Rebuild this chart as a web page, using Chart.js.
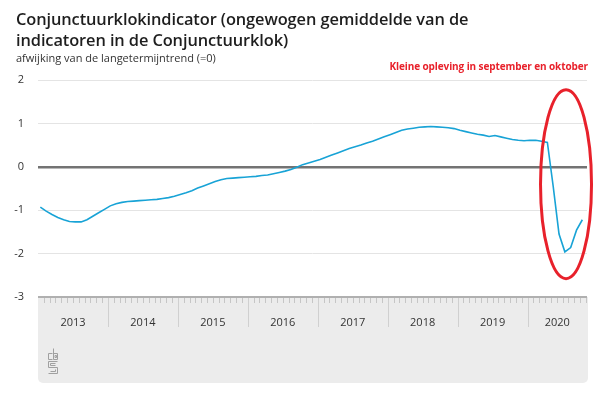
<!DOCTYPE html>
<html>
<head>
<meta charset="utf-8">
<script src="https://cdn.jsdelivr.net/npm/chart.js@4.4.1/dist/chart.umd.min.js"></script>
<style>
  body { margin: 0; background: #fff; }
  #wrap { position: relative; width: 600px; height: 398px; overflow: hidden; font-family: 'Open Sans', sans-serif; }
  #chart { position: absolute; left: 0; top: 0; }
  .title { position: absolute; left: 16px; top: 8px; font-size: 16.4px; font-weight: 600; line-height: 21px; color: #1e1e1e; letter-spacing: -0.1px; }
  .sub { position: absolute; left: 16px; top: 50px; font-size: 11px; color: #333; }
  .note { position: absolute; right: 12px; top: 59px; font-size: 10px; font-weight: 700; color: #e8212b; letter-spacing: -0.1px; }
</style>
</head>
<body>
<div id="wrap">
  <canvas id="chart" width="600" height="398"></canvas>
  <div class="title">Conjunctuurklokindicator (ongewogen gemiddelde van de<br>indicatoren in de Conjunctuurklok)</div>
  <div class="sub">afwijking van de langetermijntrend (=0)</div>
  <div class="note">Kleine opleving in september en oktober</div>
</div>
<script>
// Years shown on the axis (2020 runs through October)
const years = ['2013', '2014', '2015', '2016', '2017', '2018', '2019', '2020'];
const yearTickPos = [6, 18, 30, 42, 54, 66, 78, 89.1];

// Monthly values, January 2013 - October 2020
const values = [
  -0.93, -1.02, -1.10, -1.17, -1.22, -1.26, -1.27, -1.27, -1.22, -1.14, -1.06, -0.98, // 2013
  -0.90, -0.85, -0.82, -0.80, -0.79, -0.78, -0.77, -0.76, -0.75, -0.73, -0.71, -0.68, // 2014
  -0.64, -0.60, -0.55, -0.49, -0.44, -0.39, -0.34, -0.30, -0.27, -0.26, -0.25, -0.24, // 2015
  -0.23, -0.22, -0.20, -0.19, -0.16, -0.13, -0.10, -0.06, -0.01, 0.05, 0.09, 0.13,     // 2016
  0.17, 0.22, 0.27, 0.32, 0.37, 0.42, 0.46, 0.50, 0.55, 0.59, 0.64, 0.69,             // 2017
  0.74, 0.79, 0.84, 0.87, 0.89, 0.91, 0.92, 0.93, 0.92, 0.91, 0.90, 0.88,             // 2018
  0.84, 0.81, 0.78, 0.75, 0.73, 0.70, 0.72, 0.69, 0.66, 0.63, 0.61, 0.60,             // 2019
  0.61, 0.61, 0.59, 0.56, -0.45, -1.55, -1.96, -1.86, -1.46, -1.22                    // 2020
];

const yTicks = [2, 1, 0, -1, -2, -3];
const monthsOnAxis = 94.2;

const points = values.map((v, i) => ({ x: i + 0.4, y: v }));

// Gray axis band, month ticks, year separators, logo and the red ellipse
const decor = {
  id: 'decor',
  beforeDraw(chart) {
    const { ctx, chartArea, scales } = chart;
    const xs = scales.x;
    const left = chartArea.left, right = chartArea.right + 1, top = chartArea.bottom, bottom = 383;
    ctx.save();
    ctx.fillStyle = '#ececec';
    ctx.beginPath();
    ctx.roundRect(left, top, right - left, bottom - top, [0, 0, 5, 5]);
    ctx.fill();

    ctx.lineWidth = 1;
    for (let m = 1; m < monthsOnAxis; m++) {
      const px = Math.round(xs.getPixelForValue(m)) + 0.5;
      ctx.beginPath();
      if (m % 12 === 0) {
        ctx.strokeStyle = '#d0d0d0';
        ctx.moveTo(px, top);
        ctx.lineTo(px, top + 30);
      } else {
        ctx.strokeStyle = '#c6c6c6';
        ctx.moveTo(px, top);
        ctx.lineTo(px, top + 6);
      }
      ctx.stroke();
    }

    // cbs logo
    const lx = 48.5, ly = 348.5;
    ctx.strokeStyle = '#a0a0a0';
    ctx.beginPath();
    ctx.moveTo(lx + 4, ly + 5); ctx.lineTo(lx, ly + 5); ctx.lineTo(lx, ly + 11); ctx.lineTo(lx + 4, ly + 11);
    ctx.moveTo(lx + 5, ly); ctx.lineTo(lx + 5, ly + 11); ctx.lineTo(lx + 9, ly + 11); ctx.lineTo(lx + 9, ly + 5); ctx.lineTo(lx + 5, ly + 5);
    ctx.rect(lx + 6.5, ly + 7, 1.5, 2);
    ctx.moveTo(lx + 9, ly + 13); ctx.lineTo(lx, ly + 13); ctx.lineTo(lx, ly + 19); ctx.lineTo(lx + 9, ly + 19);
    ctx.lineTo(lx + 9, ly + 25); ctx.lineTo(lx, ly + 25);
    ctx.moveTo(lx + 7, ly + 15); ctx.lineTo(lx + 2, ly + 15); ctx.lineTo(lx + 2, ly + 17); ctx.lineTo(lx + 7, ly + 17);
    ctx.moveTo(lx + 7, ly + 21); ctx.lineTo(lx + 7, ly + 23); ctx.lineTo(lx + 2, ly + 23);
    ctx.stroke();
    ctx.restore();
  },
  afterDraw(chart) {
    const { ctx, scales } = chart;
    const cx = scales.x.getPixelForValue(90.6);
    const cy = scales.y.getPixelForValue(-0.4);
    ctx.save();
    ctx.strokeStyle = '#e8212b';
    ctx.lineWidth = 3;
    ctx.beginPath();
    ctx.ellipse(cx, cy, 25.5, 94.5, 0, 0, Math.PI * 2);
    ctx.stroke();
    ctx.restore();
  }
};

new Chart(document.getElementById('chart'), {
  type: 'line',
  data: {
    datasets: [{
      data: points,
      borderColor: '#18a3d6',
      borderWidth: 1.6,
      pointRadius: 0,
      tension: 0,
      fill: false
    }]
  },
  options: {
    responsive: false,
    animation: false,
    layout: { padding: { top: 80, right: 13, bottom: 71, left: 0 } },
    plugins: { legend: { display: false }, tooltip: { enabled: false } },
    scales: {
      x: {
        type: 'linear',
        min: 0,
        max: monthsOnAxis,
        afterFit(scale) { scale.height = 30; },
        afterBuildTicks(scale) { scale.ticks = yearTickPos.map(v => ({ value: v })); },
        grid: { display: false },
        border: { display: false },
        ticks: {
          autoSkip: false,
          maxRotation: 0,
          padding: 11,
          color: '#333',
          font: { family: 'Open Sans', size: 11 },
          callback: (v, i) => years[i]
        }
      },
      y: {
        min: -3,
        max: 2,
        afterFit(scale) { scale.width = 38; },
        afterBuildTicks(scale) { scale.ticks = yTicks.map(v => ({ value: v })); },
        border: { display: false },
        grid: {
          drawTicks: false,
          color: ctx => ctx.tick.value === 0 ? '#737373' : (ctx.tick.value === -3 ? '#b0b0b0' : '#e4e4e4'),
          lineWidth: ctx => ctx.tick.value === 0 ? 2.5 : (ctx.tick.value === -3 ? 2 : 1)
        },
        ticks: {
          padding: 14,
          color: '#333',
          font: { family: 'Open Sans', size: 11 }
        }
      }
    }
  },
  plugins: [decor]
});
</script>
</body>
</html>
